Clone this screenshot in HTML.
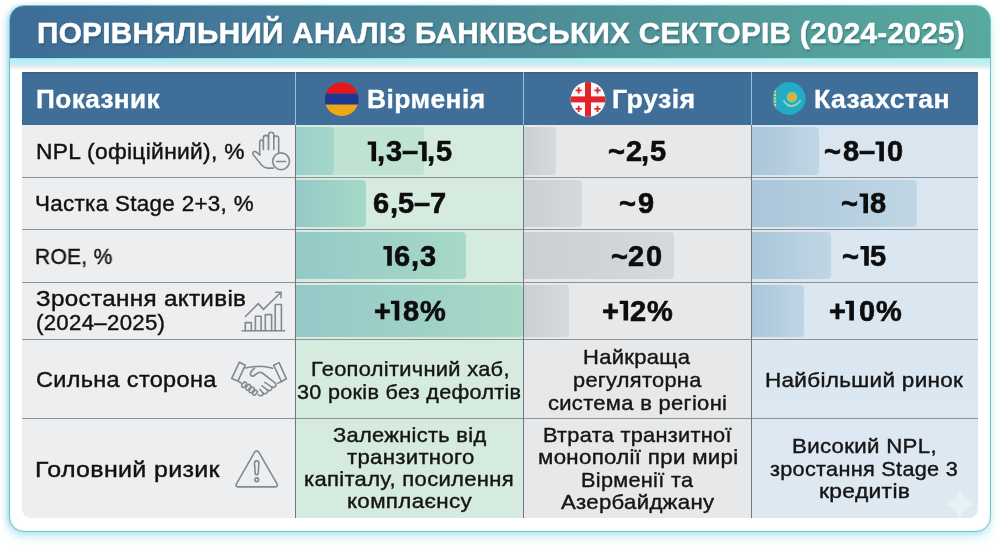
<!DOCTYPE html>
<html><head><meta charset="utf-8">
<style>
*{box-sizing:border-box;margin:0;padding:0}
html,body{width:1000px;height:545px;background:#fff;overflow:hidden;font-family:"Liberation Sans",sans-serif}
.card{position:absolute;left:9px;top:5px;width:982px;height:527px;border:1.5px solid #74c2c4;border-radius:15px;background:#fff;box-shadow:0 5px 8px rgba(140,225,235,.5),-1.5px 0 3px rgba(130,220,228,.45),-4px 1px 6px rgba(205,215,245,.35),inset 0 0 3px rgba(190,245,250,.7);overflow:hidden}
.title{position:absolute;left:0;top:0;width:100%;height:51.5px;background:linear-gradient(90deg,#3e6c98 0%,#467e98 30%,#4f9198 60%,#58a99e 100%)}
.glow{position:absolute;left:0;top:51.5px;width:100%;height:13px;background:linear-gradient(180deg,#8fdde4 0px,#b2f0f5 1.5px,#bdeef2 3.5px,#c8ecef 6px,#e6eef7 9px,#f8fbfd 11px,#fff 13px)}
.r{position:absolute}
.s{position:absolute;white-space:nowrap;line-height:1;transform-origin:0 0;will-change:transform}
.s.n{-webkit-text-stroke:.4px currentColor}
.s.b{-webkit-text-stroke:.3px currentColor}
.s.v{font-size:29px;font-weight:bold;color:#0d0d0d;-webkit-text-stroke:.6px #0d0d0d}
</style></head><body>
<div class="card"><div class="title"></div><div class="glow"></div></div>
<div class="r" style="left:22px;top:72px;width:956px;height:53px;background:#3f6f98;box-shadow:inset 0 1.5px 0 #3a6285"></div>
<div class="r" style="left:22px;top:125px;width:273px;height:393px;background:#eceef0;border-bottom-left-radius:9px"></div>
<div class="r" style="left:295px;top:125px;width:228px;height:393px;background:#d6ebdf"></div>
<div class="r" style="left:523px;top:125px;width:228px;height:393px;background:#e6e8ea"></div>
<div class="r" style="left:751px;top:125px;width:227px;height:393px;background:linear-gradient(180deg,#d9e6f0 0%,#dbe7f1 70%,#dfe9f2 100%);border-bottom-right-radius:9px"></div>
<div class="r" style="left:296px;top:127px;width:128.0px;height:47.5px;background:#bfe2d3;border-radius:0 4px 4px 0"></div>
<div class="r" style="left:296px;top:127px;width:38.0px;height:47.5px;background:linear-gradient(90deg,#9ccfca,#a5d7c9);border-radius:0 4px 4px 0"></div>
<div class="r" style="left:296px;top:180px;width:70.0px;height:46.5px;background:linear-gradient(90deg,#95c9c8,#a6d9c6);border-radius:0 4px 4px 0"></div>
<div class="r" style="left:296px;top:232px;width:169.5px;height:47.0px;background:linear-gradient(90deg,#95c9c8,#a6d9c6);border-radius:0 4px 4px 0"></div>
<div class="r" style="left:296px;top:284.5px;width:226.5px;height:52.5px;background:linear-gradient(90deg,#95c9c8,#a6d9c6);border-radius:0 4px 4px 0"></div>
<div class="r" style="left:524px;top:127px;width:32.0px;height:47.5px;background:linear-gradient(90deg,#cacfd3,#d6d9dc);border-radius:0 4px 4px 0"></div>
<div class="r" style="left:524px;top:180px;width:58.0px;height:46.5px;background:linear-gradient(90deg,#cacfd3,#d6d9dc);border-radius:0 4px 4px 0"></div>
<div class="r" style="left:524px;top:232px;width:150.0px;height:47.0px;background:linear-gradient(90deg,#cacfd3,#d6d9dc);border-radius:0 4px 4px 0"></div>
<div class="r" style="left:524px;top:284.5px;width:44.5px;height:52.5px;background:linear-gradient(90deg,#cacfd3,#d6d9dc);border-radius:0 4px 4px 0"></div>
<div class="r" style="left:752px;top:127px;width:67.0px;height:47.5px;background:linear-gradient(90deg,#aac6d9,#c0d6e5);border-radius:0 4px 4px 0"></div>
<div class="r" style="left:752px;top:180px;width:164.5px;height:46.5px;background:linear-gradient(90deg,#aac6d9,#c0d6e5);border-radius:0 4px 4px 0"></div>
<div class="r" style="left:752px;top:232px;width:78.5px;height:47.0px;background:linear-gradient(90deg,#aac6d9,#c0d6e5);border-radius:0 4px 4px 0"></div>
<div class="r" style="left:752px;top:284.5px;width:51.7px;height:52.5px;background:linear-gradient(90deg,#aac6d9,#c0d6e5);border-radius:0 4px 4px 0"></div>
<div class="r" style="left:22px;top:177px;width:956px;height:1px;background:#8d9194"></div>
<div class="r" style="left:22px;top:229px;width:956px;height:1px;background:#8d9194"></div>
<div class="r" style="left:22px;top:282px;width:956px;height:1px;background:#8d9194"></div>
<div class="r" style="left:22px;top:339px;width:956px;height:1px;background:#8d9194"></div>
<div class="r" style="left:22px;top:418px;width:956px;height:1px;background:#8d9194"></div>
<div class="r" style="left:295px;top:125px;width:1px;height:393px;background:#707a7e"></div>
<div class="r" style="left:295px;top:72px;width:1px;height:53px;background:#8cc6de"></div>
<div class="r" style="left:523px;top:125px;width:1px;height:393px;background:#707a7e"></div>
<div class="r" style="left:523px;top:72px;width:1px;height:53px;background:#8cc6de"></div>
<div class="r" style="left:751px;top:125px;width:1px;height:393px;background:#707a7e"></div>
<div class="r" style="left:751px;top:72px;width:1px;height:53px;background:#8cc6de"></div>
<svg style="position:absolute;left:0;top:0" width="1000" height="545" viewBox="0 0 1000 545">
 <defs>
  <clipPath id="ca"><circle cx="341.7" cy="99.2" r="16.9"/></clipPath>
  <clipPath id="ck"><circle cx="789.1" cy="98.5" r="16.4"/></clipPath>
  <clipPath id="cg"><circle cx="588" cy="99.4" r="17.4"/></clipPath>
 </defs>
 <g clip-path="url(#ca)"><rect x="325" y="82" width="34" height="11.7" fill="#e6161d"/><rect x="325" y="93.7" width="34" height="10.9" fill="#1d3892"/><rect x="325" y="104.6" width="34" height="12" fill="#eea716"/></g>
 <g clip-path="url(#cg)"><rect x="570" y="81" width="36" height="37" fill="#fbfbfb"/><rect x="585" y="81" width="6" height="37" fill="#e3222b"/><rect x="570" y="96.4" width="36" height="6" fill="#e3222b"/>
  <g fill="#e3222b" transform="translate(570.6 82)"><path d="M7.2 5.2h1.8v2.2h2.2v1.8H9v2.2H7.2V9.2H5V7.4h2.2z"/><path d="M26 5.2h1.8v2.2H30v1.8h-2.2v2.2H26V9.2h-2.2V7.4H26z"/><path d="M7.2 23.8h1.8V26h2.2v1.8H9V30H7.2v-2.2H5V26h2.2z"/><path d="M26 23.8h1.8V26H30v1.8h-2.2V30H26v-2.2h-2.2V26H26z"/></g></g>
 <g clip-path="url(#ck)"><rect x="772" y="82" width="34" height="34" fill="#22adc6"/><rect x="772" y="82" width="5.3" height="34" fill="#3aa6ac"/><path d="M775 87v24" stroke="#c9d28e" stroke-width="2.2" stroke-dasharray="2.2 1.2"/>
  <circle cx="792" cy="97.1" r="5.4" fill="#8fcfa8" opacity=".8"/>
  <circle cx="792" cy="97.1" r="3.9" fill="#f2aa22"/>
  <path d="M783.6 100.2 Q786.5 106.6 791.6 106.1 Q797.5 105.8 800.7 99.9" stroke="#9fd3b0" stroke-width="1.6" fill="none"/>
  <path d="M786.5 103.5 Q791.6 107.5 797 103.5" stroke="#9fd3b0" stroke-width="1" fill="none"/></g>
</svg>

<svg id="icons" style="position:absolute;left:0;top:0" width="1000" height="545" viewBox="0 0 1000 545">
 <g fill="none" stroke="#86898c" stroke-width="1.6" stroke-linecap="round" stroke-linejoin="round">
  <!-- hand with minus -->
  <path d="M259.7 155 V141.9 A1.8 1.8 0 0 1 263.3 141.9 V149.4 M263.4 149.4 V137.9 A2.5 2.5 0 0 1 268.4 137.9 V149.4 M268.6 149.4 V134.8 A2.6 2.6 0 0 1 273.8 134.8 V149.4 M273.8 149.4 V138.4 A2.45 2.45 0 0 1 278.7 138.4 V152.8"/>
  <path d="M259.7 155 L256.4 152.2 Q254.2 150.6 253 152.3 Q252.4 153.8 253.6 155.3 L260.4 163.6 Q263.4 167.9 268 168.1 L273.4 168.1"/>
  <circle cx="281.1" cy="161.3" r="8.4"/>
  <path d="M276.6 161.5 H285.6"/>
  <!-- growth chart -->
  <path d="M242.1 330.8 H284.6"/>
  <path d="M245.3 330.8 V322.6 H251.3 V330.8 M255.4 330.8 V316.3 H261.1 V330.8 M265.3 330.8 V314.6 H271.6 V330.8 M275.2 330.8 V304.5 H281.4 V330.8"/>
  <path d="M245.5 316.5 L258.2 303.6 L263.4 309.4 L281 292.2 M275.6 292.2 H281 V297.7"/>
  <!-- handshake -->
  <path d="M239.4 362.2 L245.2 365.3 L237.9 381.1 L231.7 378.4 Z"/>
  <path d="M273.7 365.3 L279.1 362.6 L286.4 378.8 L281.4 381.5 Z"/>
  <path d="M245.4 368 Q253 366.4 261.4 366.2 Q267 366.5 272.6 368.3"/>
  <path d="M254.6 368.1 Q250.6 371 250.3 374 Q250.6 376.4 253.6 376.1 Q256.6 373.2 259.2 372.5 Q261 372.2 262.4 373 L275.3 383.2 Q277 385.6 274.6 387 Q273.2 387.8 271.6 386.8 M271.6 386.8 Q272.6 389.3 270.4 390.4 Q269 391 267.5 390.2 M267.5 390.2 Q268.2 392.6 266 393.5 Q264.6 394 263.2 393.3 M263.2 393.3 Q263.2 395.6 260.8 395.8 Q259.2 395.8 258.2 394.8"/>
  <path d="M264.8 382.3 L271.6 386.8 M262 385.8 L267.5 390.2 M259.8 389.3 L263.2 393.3"/>
  <path d="M237.9 381.1 L241.2 383"/>
  <path d="M281.4 381.5 L277.6 383.4"/>
  <rect x="-1.7" y="-3.1" width="3.4" height="6.2" rx="1.7" transform="translate(244.1 384.7) rotate(38)"/>
  <rect x="-1.7" y="-3.1" width="3.4" height="6.2" rx="1.7" transform="translate(248.2 387.3) rotate(38)"/>
  <rect x="-1.7" y="-3.1" width="3.4" height="6.2" rx="1.7" transform="translate(251.7 390) rotate(38)"/>
  <rect x="-1.6" y="-2.7" width="3.2" height="5.4" rx="1.6" transform="translate(255 392.7) rotate(38)"/>
  <!-- warning -->
  <path d="M254.5 452.3 Q256.7 449.4 258.9 452.3 L276.9 483.6 Q278.6 486.9 274.9 486.9 L238.6 486.9 Q234.9 486.9 236.6 483.6 Z"/>
  <path d="M254.5 463 Q254.5 460.9 256.7 460.9 Q258.9 460.9 258.9 463 L258.2 473.3 Q258 474.8 256.7 474.8 Q255.4 474.8 255.2 473.3 Z"/>
  <circle cx="256.7" cy="479.8" r="1.9"/>
 </g>
<path id="sparkle" d="M960.3 487.8 Q962.6 502 976 504.8 Q962.6 507.4 960.3 517.6 L958 517.6 Q957.2 507.4 943.8 504.8 Q958 502 960.3 487.8Z" fill="#e9f3f7" opacity=".85"/>
</svg>
<span class="s b" style="left:36.5px;top:19px;font-size:29px;font-weight:bold;letter-spacing:0.3px;color:#fff;transform:scaleX(1.0238);text-shadow:1px 1.5px 2px rgba(20,50,70,.35);-webkit-text-stroke:.5px #fff">ПОРІВНЯЛЬНИЙ АНАЛІЗ БАНКІВСЬКИХ СЕКТОРІВ (2024-2025)</span>
<span class="s b" style="left:36.0px;top:87px;font-size:25px;font-weight:bold;letter-spacing:0.4px;color:#fff;transform:scaleX(1.0466)">Показник</span>
<span class="s b" style="left:367.0px;top:87px;font-size:25px;font-weight:bold;letter-spacing:0.4px;color:#fff;transform:scaleX(1.0565)">Вірменія</span>
<span class="s b" style="left:612.3px;top:87px;font-size:25px;font-weight:bold;letter-spacing:0.4px;color:#fff;transform:scaleX(1.0703)">Грузія</span>
<span class="s b" style="left:813.9px;top:87px;font-size:25px;font-weight:bold;letter-spacing:0.4px;color:#fff;transform:scaleX(1.0645)">Казахстан</span>
<span class="s n" style="left:36.3px;top:141px;font-size:22px;letter-spacing:0.3px;color:#111;transform:scaleX(1.0357)">NPL (офіційний), %</span>
<span class="s n" style="left:35.2px;top:193px;font-size:22px;letter-spacing:0.3px;color:#111;transform:scaleX(1.0189)">Частка Stage 2+3, %</span>
<span class="s n" style="left:35.3px;top:246px;font-size:22px;letter-spacing:0.3px;color:#111;transform:scaleX(0.9538)">ROE, %</span>
<span class="s n" style="left:35.9px;top:288px;font-size:22px;letter-spacing:0.3px;color:#111;transform:scaleX(1.1011)">Зростання активів</span>
<span class="s n" style="left:36.0px;top:312px;font-size:22px;letter-spacing:0.3px;color:#111;transform:scaleX(1.0095)">(2024–2025)</span>
<span class="s n" style="left:35.9px;top:369px;font-size:22px;letter-spacing:0.3px;color:#111;transform:scaleX(1.0679)">Сильна сторона</span>
<span class="s n" style="left:34.7px;top:459px;font-size:22px;letter-spacing:0.3px;color:#111;transform:scaleX(1.1356)">Головний ризик</span>
<span class="s n" style="left:310.7px;top:358px;font-size:21px;letter-spacing:0.3px;color:#151515;transform:scaleX(1.0396)">Геополітичний хаб,</span>
<span class="s n" style="left:297.4px;top:381px;font-size:21px;letter-spacing:0.3px;color:#151515;transform:scaleX(1.0278)">30 років без дефолтів</span>
<span class="s n" style="left:583.0px;top:346px;font-size:21px;letter-spacing:0.3px;color:#151515;transform:scaleX(1.0460)">Найкраща</span>
<span class="s n" style="left:572.6px;top:369px;font-size:21px;letter-spacing:0.3px;color:#151515;transform:scaleX(1.0374)">регуляторна</span>
<span class="s n" style="left:547.7px;top:392px;font-size:21px;letter-spacing:0.3px;color:#151515;transform:scaleX(1.0456)">система в регіоні</span>
<span class="s n" style="left:764.6px;top:369px;font-size:21px;letter-spacing:0.3px;color:#151515;transform:scaleX(1.0699)">Найбільший ринок</span>
<span class="s n" style="left:333.0px;top:424px;font-size:21px;letter-spacing:0.3px;color:#151515;transform:scaleX(1.0404)">Залежність від</span>
<span class="s n" style="left:346.7px;top:446px;font-size:21px;letter-spacing:0.3px;color:#151515;transform:scaleX(1.0542)">транзитного</span>
<span class="s n" style="left:304.3px;top:468px;font-size:21px;letter-spacing:0.3px;color:#151515;transform:scaleX(1.0490)">капіталу, посилення</span>
<span class="s n" style="left:347.3px;top:490px;font-size:21px;letter-spacing:0.3px;color:#151515;transform:scaleX(1.0664)">комплаєнсу</span>
<span class="s n" style="left:542.7px;top:424px;font-size:21px;letter-spacing:0.3px;color:#151515;transform:scaleX(1.0350)">Втрата транзитної</span>
<span class="s n" style="left:537.5px;top:446px;font-size:21px;letter-spacing:0.3px;color:#151515;transform:scaleX(1.0604)">монополії при мирі</span>
<span class="s n" style="left:581.2px;top:469px;font-size:21px;letter-spacing:0.3px;color:#151515;transform:scaleX(1.0321)">Вірменії та</span>
<span class="s n" style="left:561.0px;top:491px;font-size:21px;letter-spacing:0.3px;color:#151515;transform:scaleX(1.0545)">Азербайджану</span>
<span class="s n" style="left:792.1px;top:435px;font-size:21px;letter-spacing:0.3px;color:#151515;transform:scaleX(1.0586)">Високий NPL,</span>
<span class="s n" style="left:770.2px;top:458px;font-size:21px;letter-spacing:0.3px;color:#151515;transform:scaleX(1.0311)">зростання Stage 3</span>
<span class="s n" style="left:818.9px;top:480px;font-size:21px;letter-spacing:0.3px;color:#151515;transform:scaleX(1.0878)">кредитів</span>
<span class="s v" style="left:377.0px;top:137px">,</span>
<span class="s v" style="left:386.0px;top:137px">3</span>
<span class="s v" style="left:401.9px;top:137px">–</span>
<span class="s v" style="left:427.4px;top:137px">,</span>
<span class="s v" style="left:435.5px;top:137px">5</span>
<span class="s v" style="left:608.3px;top:137px">~</span>
<span class="s v" style="left:625.5px;top:137px">2</span>
<span class="s v" style="left:640.8px;top:137px">,</span>
<span class="s v" style="left:650.3px;top:137px">5</span>
<span class="s v" style="left:824.4px;top:137px">~</span>
<span class="s v" style="left:843.0px;top:137px">8</span>
<span class="s v" style="left:859.2px;top:137px">–</span>
<span class="s v" style="left:886.5px;top:137px">0</span>
<span class="s v" style="left:373.1px;top:189px">6</span>
<span class="s v" style="left:389.6px;top:189px">,</span>
<span class="s v" style="left:398.3px;top:189px">5</span>
<span class="s v" style="left:413.9px;top:189px">–</span>
<span class="s v" style="left:429.9px;top:189px">7</span>
<span class="s v" style="left:619.4px;top:189px">~</span>
<span class="s v" style="left:638.1px;top:189px">9</span>
<span class="s v" style="left:841.2px;top:189px">~</span>
<span class="s v" style="left:870.1px;top:189px">8</span>
<span class="s v" style="left:393.9px;top:242px">6</span>
<span class="s v" style="left:411.3px;top:242px">,</span>
<span class="s v" style="left:420.2px;top:242px">3</span>
<span class="s v" style="left:610.8px;top:242px">~</span>
<span class="s v" style="left:628.4px;top:242px">2</span>
<span class="s v" style="left:645.9px;top:242px">0</span>
<span class="s v" style="left:842.0px;top:242px">~</span>
<span class="s v" style="left:870.1px;top:242px">5</span>
<span class="s v" style="left:373.9px;top:297px">+</span>
<span class="s v" style="left:402.9px;top:297px">8</span>
<span class="s v" style="left:419.7px;top:297px">%</span>
<span class="s v" style="left:602.3px;top:297px">+</span>
<span class="s v" style="left:630.2px;top:297px">2</span>
<span class="s v" style="left:646.7px;top:297px">%</span>
<span class="s v" style="left:828.5px;top:297px">+</span>
<span class="s v" style="left:859.0px;top:297px">0</span>
<span class="s v" style="left:875.7px;top:297px">%</span>
<svg style="position:absolute;left:0;top:0" width="1000" height="545"><g fill="#0d0d0d"><polygon points="367.7,141.4 376.1,141.4 376.1,161.2 371.5,161.2 371.5,144.8 367.7,144.8"/><polygon points="418.3,141.4 426.7,141.4 426.7,161.2 422.1,161.2 422.1,144.8 418.3,144.8"/><polygon points="875.5,141.4 883.9,141.4 883.9,161.2 879.3,161.2 879.3,144.8 875.5,144.8"/><polygon points="859.6,193.4 868.0,193.4 868.0,213.2 863.4,213.2 863.4,196.8 859.6,196.8"/><polygon points="383.4,246.0 391.8,246.0 391.8,265.8 387.2,265.8 387.2,249.4 383.4,249.4"/><polygon points="860.4,246.0 868.8,246.0 868.8,265.8 864.2,265.8 864.2,249.4 860.4,249.4"/><polygon points="390.9,300.7 399.3,300.7 399.3,320.5 394.7,320.5 394.7,304.1 390.9,304.1"/><polygon points="619.7,300.7 628.1,300.7 628.1,320.5 623.5,320.5 623.5,304.1 619.7,304.1"/><polygon points="845.5,300.7 853.9,300.7 853.9,320.5 849.3,320.5 849.3,304.1 845.5,304.1"/></g></svg>
</body></html>
